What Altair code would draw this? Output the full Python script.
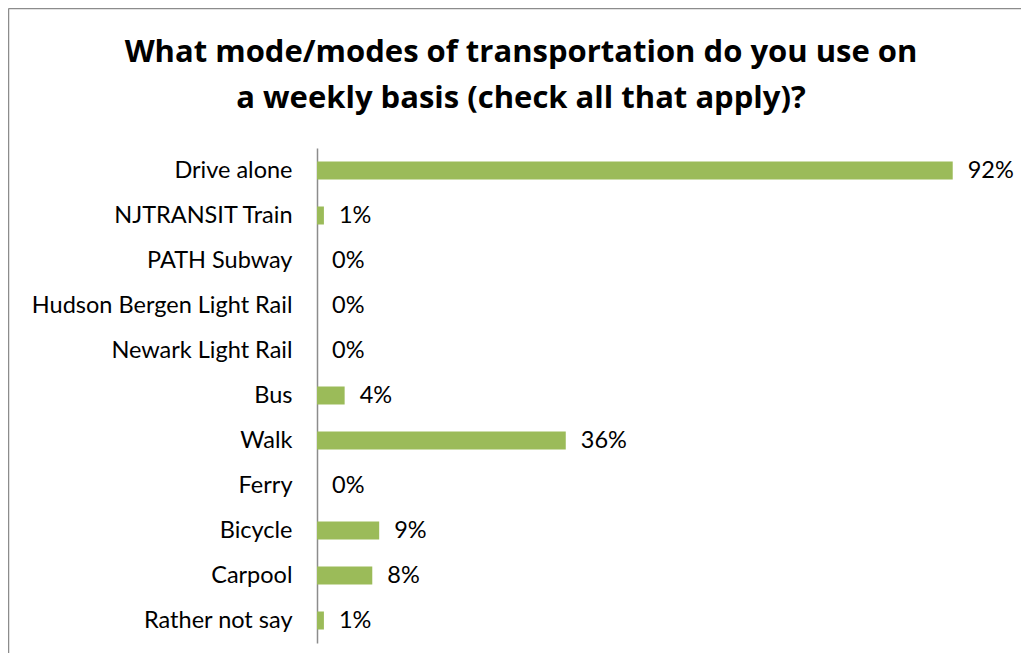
import altair as alt
import pandas as pd

categories = ["Drive alone", "NJTRANSIT Train", "PATH Subway", "Hudson Bergen Light Rail",
              "Newark Light Rail", "Bus", "Walk", "Ferry", "Bicycle", "Carpool", "Rather not say"]
values = [92, 1, 0, 0, 0, 4, 36, 0, 9, 8, 1]
labels = ["92%", "1%", "0%", "0%", "0%", "4%", "36%", "0%", "9%", "8%", "1%"]
title_lines = ["What mode/modes of transportation do you use on",
               "a weekly basis (check all that apply)?"]

df = pd.DataFrame({"cat": categories, "val": values, "lab": labels})

FONT = "Lato"
TFONT = "Open Sans"
W, H = 691, 495

y_enc = alt.Y("cat:N", sort=categories,
              scale=alt.Scale(paddingInner=0.6, paddingOuter=0.3),
              axis=alt.Axis(title=None, ticks=False, labelFontSize=23.5, labelFont=FONT,
                            labelColor="#000000", labelPadding=25, labelLimit=400,
                            domainColor="#8c8c8c", domainWidth=1.5, grid=False))
x_enc = alt.X("val:Q", scale=alt.Scale(domain=[0, 100]), axis=None)

one = pd.DataFrame({"a": [0]})
border_top = alt.Chart(one).mark_rule(color="#8c8c8c", strokeWidth=1.5).encode(
    x=alt.value(-308.5), x2=alt.value(720), y=alt.value(-139.5))
border_left = alt.Chart(one).mark_rule(color="#8c8c8c", strokeWidth=1.5).encode(
    x=alt.value(-308.5), y=alt.value(-139.5), y2=alt.value(520))

bars = alt.Chart(df).mark_bar(color="#9bbb59").encode(x=x_enc, y=y_enc)
text = alt.Chart(df).mark_text(align="left", baseline="middle", dx=15, fontSize=23.5,
                               font=FONT, color="#000000").encode(
    x=x_enc, y=y_enc, text="lab:N")

t1 = alt.Chart(pd.DataFrame({"t": [title_lines[0]]})).mark_text(
    align="center", baseline="alphabetic", fontSize=31, font=TFONT, fontWeight="bold",
    color="#000000").encode(text="t:N", x=alt.value(204), y=alt.value(-86))
t2 = alt.Chart(pd.DataFrame({"t": [title_lines[1]]})).mark_text(
    align="center", baseline="alphabetic", fontSize=31, font=TFONT, fontWeight="bold",
    color="#000000").encode(text="t:N", x=alt.value(204), y=alt.value(-40))

chart = alt.layer(border_top, border_left, t1, t2, bars, text).properties(
    width=W, height=H,
    autosize=alt.AutoSizeParams(type="none"),
    padding={"left": 309, "top": 140, "right": 13, "bottom": 10},
).configure_view(stroke=None)

chart.save("out.html", embed_options={"renderer": "svg", "actions": False})
